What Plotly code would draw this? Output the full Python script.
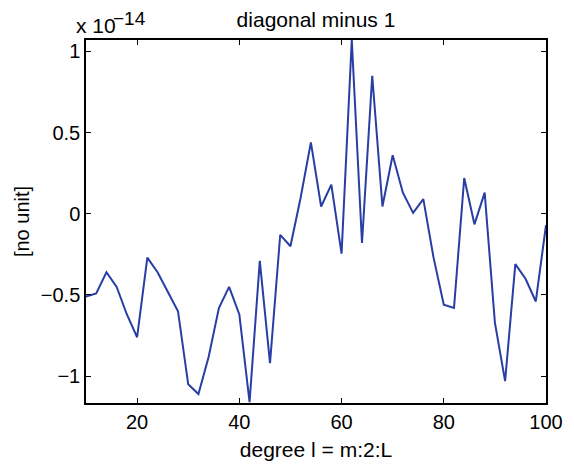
import plotly.graph_objects as go

degree = list(range(10, 101, 2))
values = [-0.51, -0.49, -0.36, -0.45, -0.62, -0.76, -0.27, -0.36, -0.48, -0.60,
          -1.05, -1.11, -0.88, -0.58, -0.45, -0.62, -1.16, -0.29, -0.92, -0.13,
          -0.20, 0.10, 0.44, 0.045, 0.18, -0.245, 1.07, -0.18, 0.85, 0.045,
          0.36, 0.13, 0.005, 0.09, -0.27, -0.56, -0.58, 0.22, -0.065, 0.13,
          -0.67, -1.03, -0.31, -0.40, -0.54, -0.07]  # units of 1e-14

xticks = [20, 40, 60, 80, 100]
yticks = [-1, -0.5, 0, 0.5, 1]
ytick_text = ["\u22121", "\u22120.5", "0", "0.5", "1"]

font = "Liberation Sans, Arial, Helvetica, sans-serif"
FS = 20
TS = 21

fig = go.Figure()
fig.add_trace(go.Scatter(x=degree, y=values, mode="lines",
                         line=dict(color="rgb(40,62,165)", width=2)))

axis_common = dict(showgrid=False, zeroline=False, showline=True, linecolor="black",
                   linewidth=1.5, mirror="ticks", ticks="inside", ticklen=5,
                   tickcolor="black", tickwidth=1,
                   tickfont=dict(family=font, size=FS, color="black"))

fig.update_xaxes(range=[10, 100], tickvals=xticks,
                 title=dict(text="degree l = m:2:L", font=dict(family=font, size=TS, color="black"), standoff=11),
                 **axis_common)
fig.update_yaxes(range=[-1.165, 1.07], tickvals=yticks, ticktext=ytick_text,
                 title=dict(text="[no unit]", font=dict(family=font, size=FS, color="black"), standoff=6),
                 **axis_common)

fig.update_layout(
    width=574, height=464,
    margin=dict(l=78, r=36, t=32, b=69),
    paper_bgcolor="white", plot_bgcolor="white",
    showlegend=False,
    title=dict(text="diagonal minus 1", x=0.5, xanchor="center", xref="paper",
               y=1 - 12 / 464, yanchor="middle",
               font=dict(family=font, size=TS, color="black")),
    annotations=[
        dict(text="x 10", xref="paper", yref="paper",
             x=-0.026, y=1.004, xanchor="left", yanchor="bottom",
             showarrow=False, font=dict(family=font, size=21, color="black")),
        dict(text="\u221214", xref="paper", yref="paper",
             x=0.054, y=1.095, xanchor="left", yanchor="top",
             showarrow=False, font=dict(family=font, size=19, color="black")),
    ],
)

fig.write_html("out.html")
